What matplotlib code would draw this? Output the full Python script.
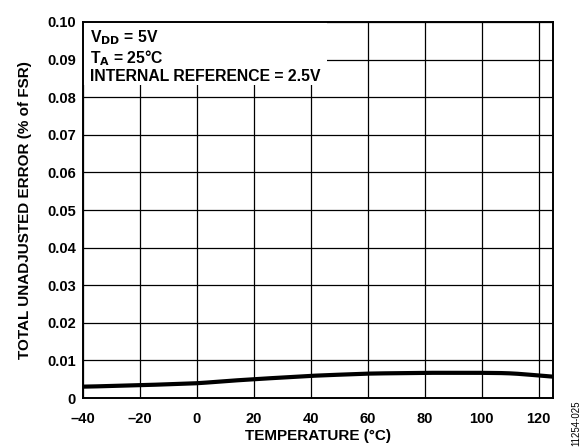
import matplotlib
matplotlib.use("Agg")
import matplotlib.pyplot as plt
from matplotlib.patches import Rectangle
import numpy as np

plt.rcParams['font.family'] = ['Liberation Sans', 'DejaVu Sans']

# Total unadjusted error vs temperature
temperature = [-40, -20, 0, 10, 20, 40, 60, 80, 100, 110, 120, 125]
tue_pct_fsr = [0.0030, 0.0034, 0.0039, 0.0045, 0.0050, 0.0059, 0.0065,
               0.0067, 0.0067, 0.0066, 0.0060, 0.0056]

x_ticks = [-40, -20, 0, 20, 40, 60, 80, 100, 120]
x_tick_labels = ['\u201340', '\u201320', '0', '20', '40', '60', '80', '100', '120']
y_ticks = [0, 0.01, 0.02, 0.03, 0.04, 0.05, 0.06, 0.07, 0.08, 0.09, 0.10]
y_tick_labels = ['0', '0.01', '0.02', '0.03', '0.04', '0.05', '0.06',
                 '0.07', '0.08', '0.09', '0.10']

fig = plt.figure(figsize=(5.85, 4.48), dpi=100)
ax = fig.add_axes([0.1419, 0.1116, 0.9453 - 0.1419, 0.9509 - 0.1116])

# light smoothing of the piecewise-linear curve through the read points
xs = np.linspace(-40, 125, 400)
ys = np.interp(xs, temperature, tue_pct_fsr)
k = 9
padded = np.pad(ys, (k, k), mode='edge')
ys_s = np.convolve(padded, np.ones(2 * k + 1) / (2 * k + 1), mode='valid')
ax.plot(xs, ys_s, color='black', lw=3.0, zorder=4, solid_capstyle='butt')

ax.set_xlim(-40, 125)
ax.set_ylim(0, 0.10)
ax.set_xticks(x_ticks)
ax.set_xticklabels(x_tick_labels)
ax.set_yticks(y_ticks)
ax.set_yticklabels(y_tick_labels)
ax.tick_params(length=0, labelsize=10.5)
ax.tick_params(axis='x', pad=10)
ax.tick_params(axis='y', pad=5)
for lab in ax.get_xticklabels() + ax.get_yticklabels():
    lab.set_fontweight('bold')

ax.grid(True, color='black', lw=0.9)
ax.set_axisbelow(True)
for sp in ax.spines.values():
    sp.set_linewidth(1.4)
    sp.set_zorder(6)

# white panel behind the conditions text
ax.add_patch(Rectangle((0, 0.832), 0.519, 0.168, transform=ax.transAxes,
                       facecolor='white', edgecolor='none', zorder=2))
ax.text(0.015, 0.982, 'V$_{\\mathbf{DD}}$ = 5V\nT$_{\\mathbf{A}}$ = 25°C\nINTERNAL REFERENCE = 2.5V',
        transform=ax.transAxes, ha='left', va='top', fontsize=11.3,
        fontweight='bold', linespacing=1.05, zorder=3)

ax.set_xlabel('TEMPERATURE (°C)', fontsize=11, fontweight='bold', labelpad=2)
ax.set_ylabel('TOTAL UNADJUSTED ERROR (% of FSR)', fontsize=11,
              fontweight='bold', labelpad=11)

fig.text(0.986, 1 - 400 / 448, '11254-025', rotation=90, fontsize=7,
         ha='center', va='top')

fig.savefig('out.png', dpi=100)
